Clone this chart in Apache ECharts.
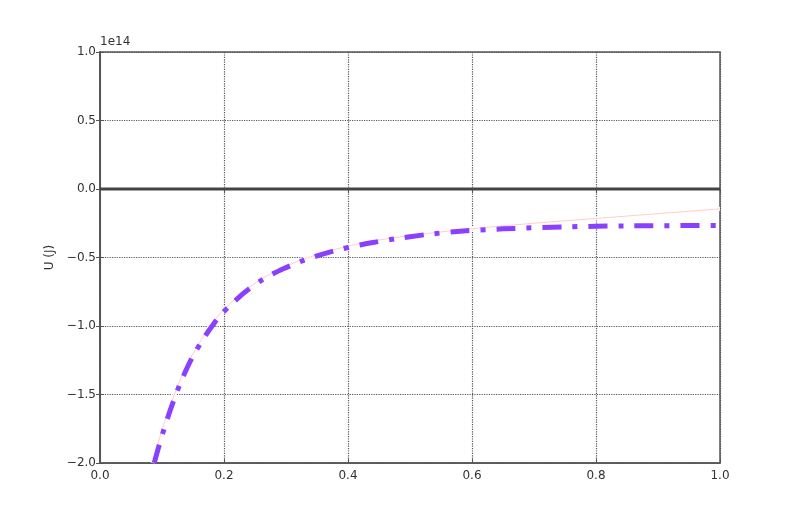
<!DOCTYPE html>
<html>
<head>
<meta charset="utf-8">
<title>U (J)</title>
<script src="https://cdn.jsdelivr.net/npm/echarts@6/dist/echarts.min.js"></script>
<style>
  html, body { margin: 0; padding: 0; background: #fff; }
  #chart { width: 800px; height: 514px; }
</style>
</head>
<body>
<div id="chart"></div>
<script type="text/javascript">
	// values, y in units of 1e14 J
	var xTicks = [0.0, 0.2, 0.4, 0.6, 0.8, 1.0];
	var yTicks = [-2.0, -1.5, -1.0, -0.5, 0.0, 0.5, 1.0];

	// purple dash-dot curve
	var rPurple = [0.0875, 0.10, 0.12, 0.14, 0.16, 0.18, 0.20, 0.25, 0.30, 0.35, 0.40, 0.45, 0.50, 0.55, 0.60, 0.70, 0.80, 0.90, 1.00];
	var uPurple = [-2.00, -1.80, -1.53, -1.31, -1.142, -1.006, -0.893, -0.698, -0.574, -0.489, -0.427, -0.383, -0.348, -0.321, -0.302, -0.283, -0.272, -0.268, -0.266];

	// faint red curve
	var rRed = [0.085, 0.10, 0.12, 0.14, 0.16, 0.18, 0.20, 0.25, 0.30, 0.35, 0.40, 0.45, 0.50, 0.60, 0.70, 0.80, 0.90, 1.00];
	var uRed = [-2.00, -1.76, -1.50, -1.29, -1.125, -0.99, -0.878, -0.688, -0.565, -0.48, -0.418, -0.373, -0.34, -0.29, -0.25, -0.215, -0.18, -0.145];

	// zero line
	var rZero = [0.0, 1.0];
	var uZero = [0.0, 0.0];

	function pairs(xs, ys) {
		var out = [];
		for (var i = 0; i < xs.length; i++) {
			out.push([xs[i], ys[i]]);
		}
		return out;
	}

	function fmt(v) {
		var s = Math.abs(v).toFixed(1);
		return v < 0 ? '\u2212' + s : s;
	}

	var labelFont = { fontFamily: 'DejaVu Sans', fontSize: 12, color: '#333' };
	var frame = { color: '#555', width: 1.5 };

	var myChart = echarts.init(document.getElementById('chart'));
	var option = {
		backgroundColor: '#fff',
		animation: false,
		grid: {
			left: 100, right: 80, top: 52, bottom: 51,
			show: true, borderColor: '#555', borderWidth: 1.5,
			backgroundColor: 'transparent'
		},
		graphic: [{
			type: 'text', left: 100, top: 36,
			style: { text: '1e14', fontFamily: 'DejaVu Sans', fontSize: 12, fill: '#333' }
		}],
		xAxis: [{
			type: 'value', min: 0, max: 1, interval: 0.2,
			axisLine: { show: true, onZero: false, lineStyle: frame },
			axisTick: { show: true, inside: true, length: 4, lineStyle: { color: '#555' } },
			axisLabel: Object.assign({ margin: 7, formatter: fmt }, labelFont),
			splitLine: { show: true, lineStyle: { type: 'dotted', color: '#555', width: 1.2 } }
		}, {
			type: 'value', min: 0, max: 1, interval: 0.2, position: 'top',
			axisLine: { show: true, lineStyle: frame },
			axisTick: { show: true, inside: true, length: 4, lineStyle: { color: '#555' } },
			axisLabel: { show: false },
			splitLine: { show: false }
		}],
		yAxis: [{
			type: 'value', min: -2, max: 1, interval: 0.5,
			name: 'U (J)', nameLocation: 'middle', nameGap: 43, nameRotate: 90,
			nameTextStyle: { fontFamily: 'DejaVu Sans', fontSize: 12, color: '#333' },
			axisLine: { show: true, onZero: false, lineStyle: frame },
			axisTick: { show: true, inside: true, length: 4, lineStyle: { color: '#555' } },
			axisLabel: Object.assign({ margin: 4, formatter: fmt }, labelFont),
			splitLine: { show: true, lineStyle: { type: 'dotted', color: '#555', width: 1.2 } }
		}, {
			type: 'value', min: -2, max: 1, interval: 0.5, position: 'right',
			axisLine: { show: true, lineStyle: frame },
			axisTick: { show: true, inside: true, length: 4, lineStyle: { color: '#555' } },
			axisLabel: { show: false },
			splitLine: { show: false }
		}],
		series: [
			{
				name: 'zero', type: 'line', data: pairs(rZero, uZero),
				symbol: 'none', z: 2,
				lineStyle: { color: '#444', width: 3 }
			},
			{
				name: 'halo', type: 'line', data: pairs(rRed, uRed),
				symbol: 'none', smooth: 0.4, z: 3,
				lineStyle: { color: '#fff', width: 4 }
			},
			{
				name: 'red', type: 'line', data: pairs(rRed, uRed),
				symbol: 'none', smooth: 0.4, z: 4,
				lineStyle: { color: 'rgba(255,110,110,0.35)', width: 1 }
			},
			{
				name: 'U', type: 'line', data: pairs(rPurple, uPurple),
				symbol: 'none', smooth: 0.4, z: 5,
				lineStyle: { color: '#8a40ff', width: 5, type: [19, 11, 5, 11], cap: 'butt' }
			}
		]
	};
	myChart.setOption(option);
</script>
</body>
</html>
